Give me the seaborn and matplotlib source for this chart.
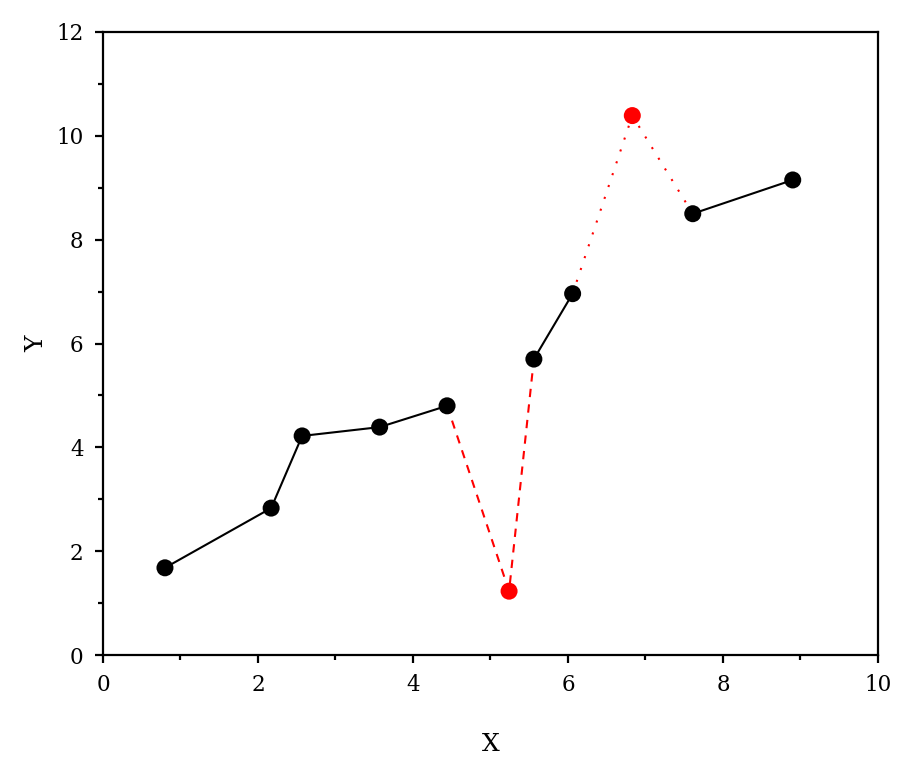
import seaborn as sns
import matplotlib.pyplot as plt
import numpy as np

x_vals = [0.80, 2.17, 2.57, 3.57, 4.44, 5.24, 5.56, 6.06, 6.83, 7.61, 8.90]
y_vals = [1.68, 2.83, 4.22, 4.39, 4.80, 1.23, 5.70, 6.96, 10.39, 8.50, 9.15]
point_colors = ["black", "black", "black", "black", "black", "red",
                "black", "black", "red", "black", "black"]

# segments: (start index, end index, color, linestyle)
segments = [(0, 4, "black", "-"), (4, 6, "red", (0, (4, 3.5))),
            (6, 7, "black", "-"), (7, 9, "red", (0, (1, 5))),
            (9, 10, "black", "-")]

sns.set_style("ticks")
plt.rcParams['font.family'] = ['DejaVu Serif']
plt.rcParams['text.color'] = 'black'
plt.rcParams['axes.labelcolor'] = 'black'
plt.rcParams['xtick.color'] = 'black'
plt.rcParams['ytick.color'] = 'black'
plt.rcParams['axes.edgecolor'] = 'black'

fig = plt.figure(figsize=(9.16, 7.69), dpi=100)
ax = fig.add_axes([0.1124, 0.1482, 0.8461, 0.8102])

for s, e, c, ls in segments:
    sns.lineplot(x=x_vals[s:e + 1], y=y_vals[s:e + 1], color=c, linestyle=ls,
                 linewidth=1.5, sort=False, ax=ax, zorder=2)

sns.scatterplot(x=x_vals, y=y_vals, hue=list(range(len(x_vals))),
                palette=point_colors, s=150, edgecolor="none", legend=False,
                ax=ax, zorder=3)

ax.set_xlim(0, 10)
ax.set_ylim(0, 12)
ax.set_xticks(np.arange(0, 11, 2))
ax.set_yticks(np.arange(0, 13, 2))
ax.set_xticks(np.arange(1, 10, 2), minor=True)
ax.set_yticks(np.arange(1, 12, 2), minor=True)
ax.tick_params(which="major", direction="out", length=6, width=1.6,
               labelsize=15.5, pad=8)
ax.tick_params(which="minor", direction="out", length=3.5, width=1.6)
ax.tick_params(top=False, right=False, which="both")
for sp in ax.spines.values():
    sp.set_linewidth(1.6)
    sp.set_visible(True)
ax.set_xlabel("X", fontsize=18, labelpad=26)
ax.set_ylabel("Y", fontsize=18, labelpad=6)

fig.savefig("out.png", dpi=100)
